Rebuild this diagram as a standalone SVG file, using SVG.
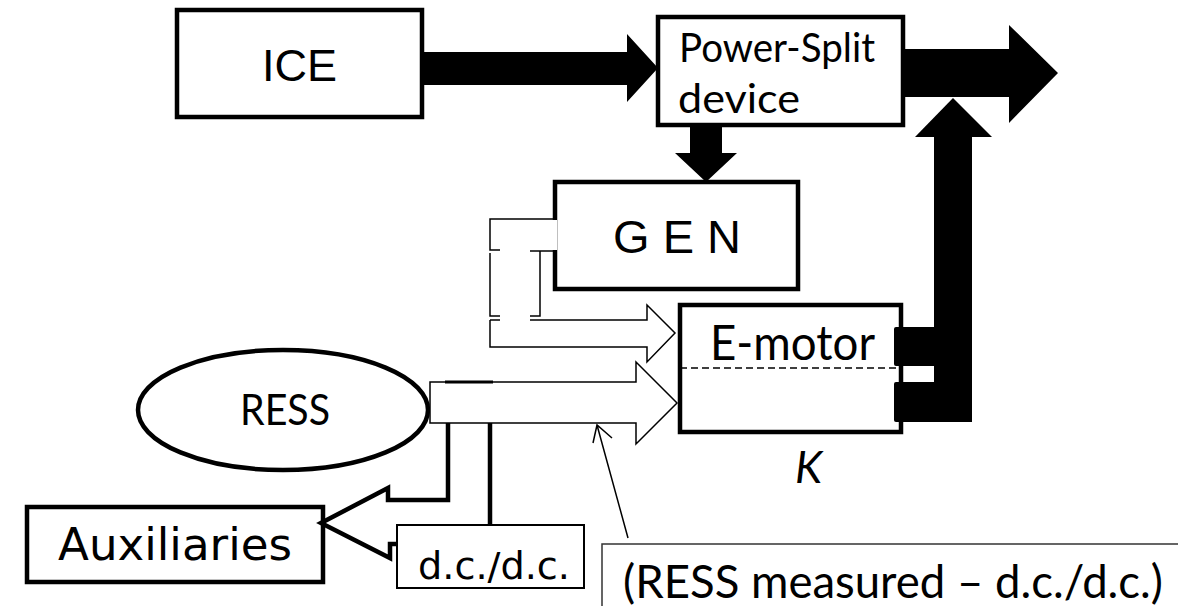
<svg xmlns="http://www.w3.org/2000/svg" width="1178" height="606" viewBox="0 0 1178 606">
<style>
.box{fill:#fff;stroke:#000;stroke-width:4.5}
.thin{fill:none;stroke:#000;stroke-width:1.5}
.thinw{fill:#fff;stroke:#000;stroke-width:1.5}
.blk{fill:#000;stroke:none}
.arial{font-family:"Liberation Sans",Arial,sans-serif;fill:#000}
.cal{font-family:Lato,"Open Sans",sans-serif;fill:#000}
.ver{font-family:"DejaVu Sans",Verdana,sans-serif;fill:#000}
</style>
<rect width="1178" height="606" fill="#fff"/>
<g id="ICE">
<rect class="box" x="177" y="10" width="245" height="107"/>
<text class="arial" x="262" y="81" font-size="45" textLength="75" lengthAdjust="spacingAndGlyphs">ICE</text>
</g>
<g id="PowerSplit">
<rect class="box" x="658" y="17" width="245" height="108"/>
<text class="cal" x="679" y="62" font-size="40" textLength="196" lengthAdjust="spacingAndGlyphs">Power-Split</text>
<text class="cal" x="678" y="113" font-size="40" textLength="122" lengthAdjust="spacingAndGlyphs">device</text>
</g>
<g id="GEN">
<rect class="box" x="555" y="182" width="243" height="107"/>
<rect x="550" y="220" width="7" height="30" fill="#fff"/>
<text class="arial" x="613" y="253" font-size="46" textLength="128" lengthAdjust="spacingAndGlyphs">G E N</text>
</g>
<g id="Emotor">
<rect class="box" x="680" y="305" width="221" height="127"/>
<line x1="680" y1="368" x2="900" y2="368" stroke="#000" stroke-width="1.5" stroke-dasharray="7 4"/>
<text class="cal" x="710" y="360" font-size="48" textLength="165" lengthAdjust="spacingAndGlyphs">E-motor</text>
</g>
<g id="K">
<text class="cal" x="795" y="483" font-size="44" font-style="italic">K</text>
</g>
<g id="RESS">
<ellipse cx="283" cy="410" rx="145" ry="60" fill="#fff" stroke="#000" stroke-width="4.5"/>
<text class="cal" x="240" y="425" font-size="42" textLength="90" lengthAdjust="spacingAndGlyphs">RESS</text>
</g>
<g id="Auxiliaries">
<rect class="box" x="27" y="507" width="296" height="75"/>
<text class="ver" x="58" y="560" font-size="44" textLength="234" lengthAdjust="spacingAndGlyphs">Auxiliaries</text>
</g>
<g id="dcdc">
<rect x="397" y="525" width="187" height="63" fill="#fff" stroke="#000" stroke-width="2"/>
<text class="ver" x="418" y="579" font-size="37" textLength="152" lengthAdjust="spacingAndGlyphs">d.c./d.c.</text>
</g>
<g id="measured">
<rect x="602" y="544" width="600" height="80" fill="#fff" stroke="#333" stroke-width="1.5"/>
<text class="cal" x="623" y="598" font-size="46" textLength="540" lengthAdjust="spacingAndGlyphs">(RESS measured – d.c./d.c.)</text>
</g>
<g id="connectors">
<polygon class="blk" points="422,52 627,52 627,34 658,68 627,102 627,85 422,85"/>
<polygon class="blk" points="903,49 1009,49 1009,25 1058,73 1009,123 1009,97 903,97"/>
<polygon class="blk" points="690,125 722,125 722,153 737,153 706,182 675,153 690,153"/>
<rect class="blk" x="934" y="136" width="38" height="286"/>
<polygon class="blk" points="915,137 953,98 992,137"/>
<rect class="blk" x="894" y="327" width="78" height="39" rx="2"/>
<rect class="blk" x="894" y="382" width="78" height="40" rx="2"/>
<path class="thin" d="M557 219 H490 V250 H500"/>
<path class="thin" d="M530 251 H557"/>
<path class="thin" d="M490 253 V316 H500 M530 316 H540 V251"/>
<path class="thinw" d="M490 320 V347 H647 V362 L675 333 L647 305 V320 H530"/>
<path class="thin" d="M490 320 H500"/>
<polygon class="thinw" points="430,382 636,382 636,362 677,403 636,444 636,423 430,423"/>
<line x1="445" y1="382" x2="493" y2="382" stroke="#000" stroke-width="3"/>
<path d="M448 423 V500 H388 V488 L321 523 L390 558 V544 H397" fill="none" stroke="#000" stroke-width="4.5"/>
<line x1="490" y1="423" x2="490" y2="525" stroke="#000" stroke-width="4.5"/>
<path class="thin" d="M628 538 L597 425 M593 443 L597 425 L612 438"/>
</g>
</svg>
